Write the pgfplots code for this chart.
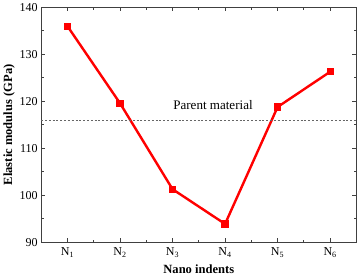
\documentclass[border=0pt]{standalone}
\usepackage{pgfplots}
\pgfplotsset{compat=1.18}
\usepackage{fontspec}
\setmainfont{Liberation Serif}
\begin{document}
\begin{tikzpicture}
\begin{axis}[
  scale only axis,
  width=314pt, height=234pt,
  xmin=0.5, xmax=6.5,
  ymin=90, ymax=140,
  xtick={1,2,3,4,5,6},
  xticklabels={N\textsubscript{1},N\textsubscript{2},N\textsubscript{3},N\textsubscript{4},N\textsubscript{5},N\textsubscript{6}},
  ytick={90,100,...,140},
  minor x tick num=1,
  minor y tick num=1,
  tick align=inside,
  major tick length=4pt,
  minor tick length=2.5pt,
  tick style={line width=0.8pt, color=black!75},
  axis line style={line width=1.2pt, color=black!75},
  /pgf/number format/assume math mode=true,
  ticklabel style={font=\fontsize{12}{14}\selectfont},
  xticklabel style={yshift=-2pt},
  xlabel={\textbf{Nano indents}},
  ylabel={\textbf{Elastic modulus (GPa)}},
  label style={font=\fontsize{12.5}{14}\selectfont},
  ylabel style={yshift=-2pt},
]
\addplot[red, line width=2.4pt, mark=square*, mark size=2.4pt, mark options={solid}]
  coordinates {(1,136.0) (2,119.6) (3,101.3) (4,93.9) (5,118.8) (6,126.3)};
\addplot[black!60, dash pattern=on 2pt off 1.8pt, line width=0.45pt]
  coordinates {(0.5,116.0) (6.5,116.0)};
\node[font=\fontsize{13}{15}\selectfont] at (axis cs:3.77,119.2) {Parent material};
\end{axis}
\end{tikzpicture}
\end{document}
